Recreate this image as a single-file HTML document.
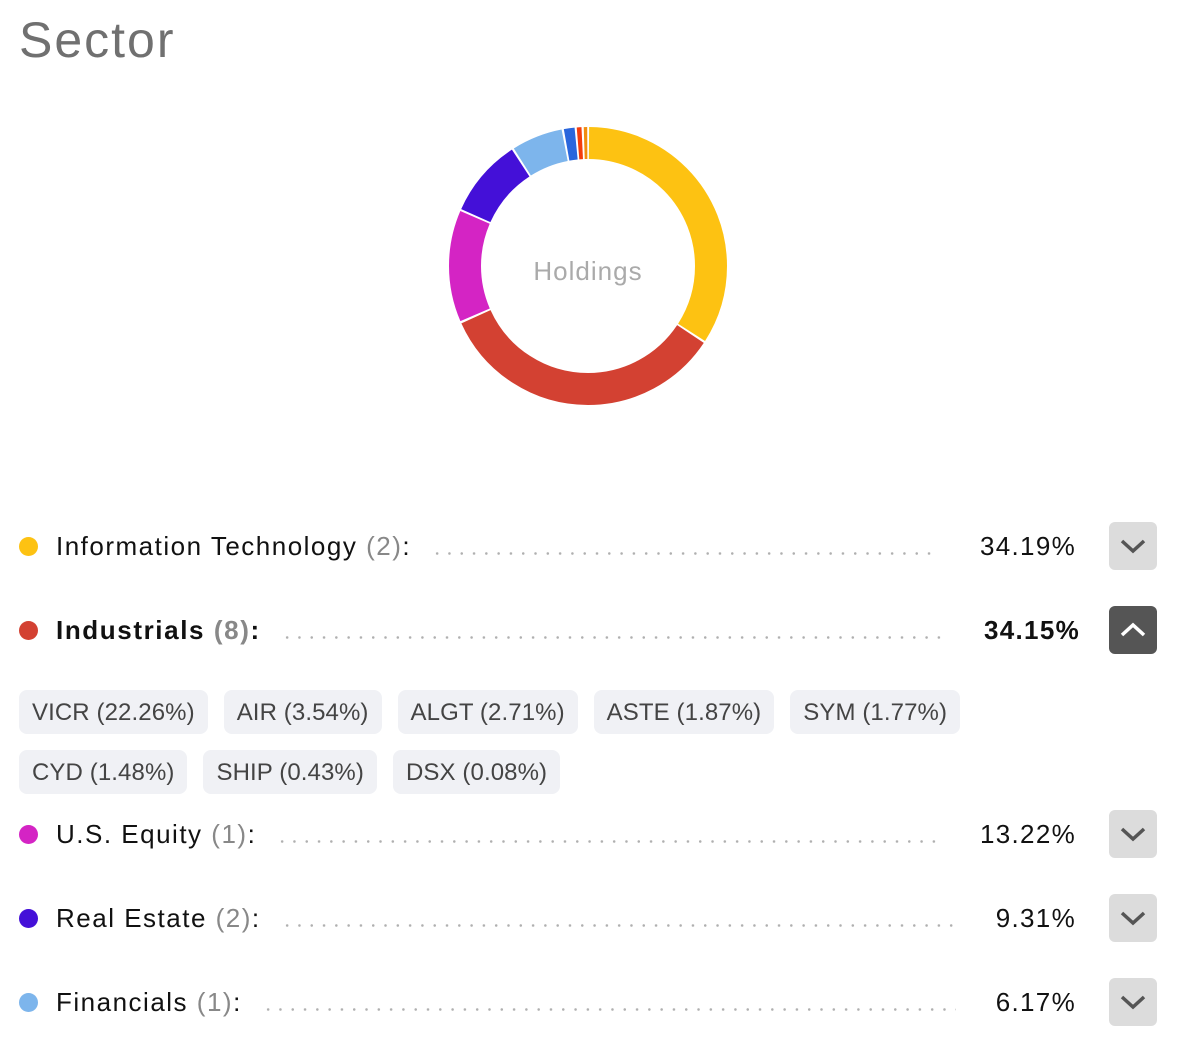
<!DOCTYPE html>
<html><head><meta charset="utf-8"><style>
body{margin:0;width:1179px;height:1043px;background:#fff;font-family:"Liberation Sans",Arial,sans-serif;position:relative;overflow:hidden}
h1{position:absolute;left:19px;top:11px;margin:0;font-weight:400;font-size:50px;color:#707070;letter-spacing:2px}
.row{position:absolute;left:19px;width:1138px;height:48px;display:flex;align-items:center}
.dot{width:19px;height:19px;border-radius:50%;margin-right:18px;flex:none}
.lab{font-size:26px;color:#111;white-space:nowrap;letter-spacing:1.5px}
.lab span{color:#888}
.lead{flex:1;height:3px;margin:14px 0 0 20px;background:radial-gradient(circle,#b0b0b0 1.1px,transparent 1.5px) 0 0/12.3px 3px repeat-x}
.pct{font-size:26px;color:#111;margin-left:40px;margin-right:33px;white-space:nowrap;letter-spacing:1.3px}
.btn{width:48px;height:48px;border-radius:6px;background:#dcdcdc;flex:none;display:flex;align-items:center;justify-content:center}
.b .lab,.b .pct{font-weight:700}
.b .lab{letter-spacing:1.6px}
.b .btn{background:#555}
.chips{position:absolute;left:19px;display:flex;gap:16px}
.chip{background:#f0f1f5;border-radius:8px;height:44px;line-height:45px;padding:0 13px;font-size:24px;color:#444;letter-spacing:0.1px}
</style></head><body>
<h1>Sector</h1>
<svg width="1179" height="460" style="position:absolute;left:0;top:0">
<g transform="rotate(-90 588 266)" fill="none" stroke-width="32">
<circle cx="588" cy="266" r="123" stroke="#fdc212" stroke-dasharray="262.2 600" stroke-dashoffset="-1"/>
<circle cx="588" cy="266" r="123" stroke="#d34132" stroke-dasharray="261.9 600" stroke-dashoffset="-265.2"/>
<circle cx="588" cy="266" r="123" stroke="#d424c4" stroke-dasharray="100.2 700" stroke-dashoffset="-529.2"/>
<circle cx="588" cy="266" r="123" stroke="#4410d8" stroke-dasharray="70 700" stroke-dashoffset="-631.3"/>
<circle cx="588" cy="266" r="123" stroke="#7db5ec" stroke-dasharray="45.7 730" stroke-dashoffset="-703.3"/>
<circle cx="588" cy="266" r="123" stroke="#2a66dc" stroke-dasharray="9.6 770" stroke-dashoffset="-751"/>
<circle cx="588" cy="266" r="123" stroke="#f43d0d" stroke-dasharray="4.2 770" stroke-dashoffset="-762.5"/>
<circle cx="588" cy="266" r="123" stroke="#f08c10" stroke-dasharray="3.1 770" stroke-dashoffset="-768.7"/>
</g>
<text x="588" y="280" text-anchor="middle" font-size="26" fill="#aaa" letter-spacing="1" font-family="Liberation Sans,Arial,sans-serif">Holdings</text>
</svg>

<div class="row" style="top:522px"><div class="dot" style="background:#fdc212"></div><div class="lab">Information Technology <span>(2)</span>:</div><div class="lead"></div><div class="pct">34.19%</div><div class="btn"><svg width="28" height="18"><path d="M3 4 L14 14 L25 4" stroke="#555" stroke-width="3.5" fill="none"/></svg></div></div>
<div class="row b" style="top:606px"><div class="dot" style="background:#d34132"></div><div class="lab">Industrials <span>(8)</span>:</div><div class="lead"></div><div class="pct" style="margin-right:29px">34.15%</div><div class="btn"><svg width="28" height="18"><path d="M3 14 L14 4 L25 14" stroke="#fff" stroke-width="3.5" fill="none"/></svg></div></div>
<div class="chips" style="top:690px"><div class="chip">VICR (22.26%)</div><div class="chip">AIR (3.54%)</div><div class="chip">ALGT (2.71%)</div><div class="chip">ASTE (1.87%)</div><div class="chip">SYM (1.77%)</div></div>
<div class="chips" style="top:750px"><div class="chip">CYD (1.48%)</div><div class="chip">SHIP (0.43%)</div><div class="chip">DSX (0.08%)</div></div>
<div class="row" style="top:810px"><div class="dot" style="background:#d424c4"></div><div class="lab">U.S. Equity <span>(1)</span>:</div><div class="lead"></div><div class="pct">13.22%</div><div class="btn"><svg width="28" height="18"><path d="M3 4 L14 14 L25 4" stroke="#555" stroke-width="3.5" fill="none"/></svg></div></div>
<div class="row" style="top:894px"><div class="dot" style="background:#4410d8"></div><div class="lab">Real Estate <span>(2)</span>:</div><div class="lead"></div><div class="pct">9.31%</div><div class="btn"><svg width="28" height="18"><path d="M3 4 L14 14 L25 4" stroke="#555" stroke-width="3.5" fill="none"/></svg></div></div>
<div class="row" style="top:978px"><div class="dot" style="background:#7db5ec"></div><div class="lab">Financials <span>(1)</span>:</div><div class="lead"></div><div class="pct">6.17%</div><div class="btn"><svg width="28" height="18"><path d="M3 4 L14 14 L25 4" stroke="#555" stroke-width="3.5" fill="none"/></svg></div></div>
</body></html>
